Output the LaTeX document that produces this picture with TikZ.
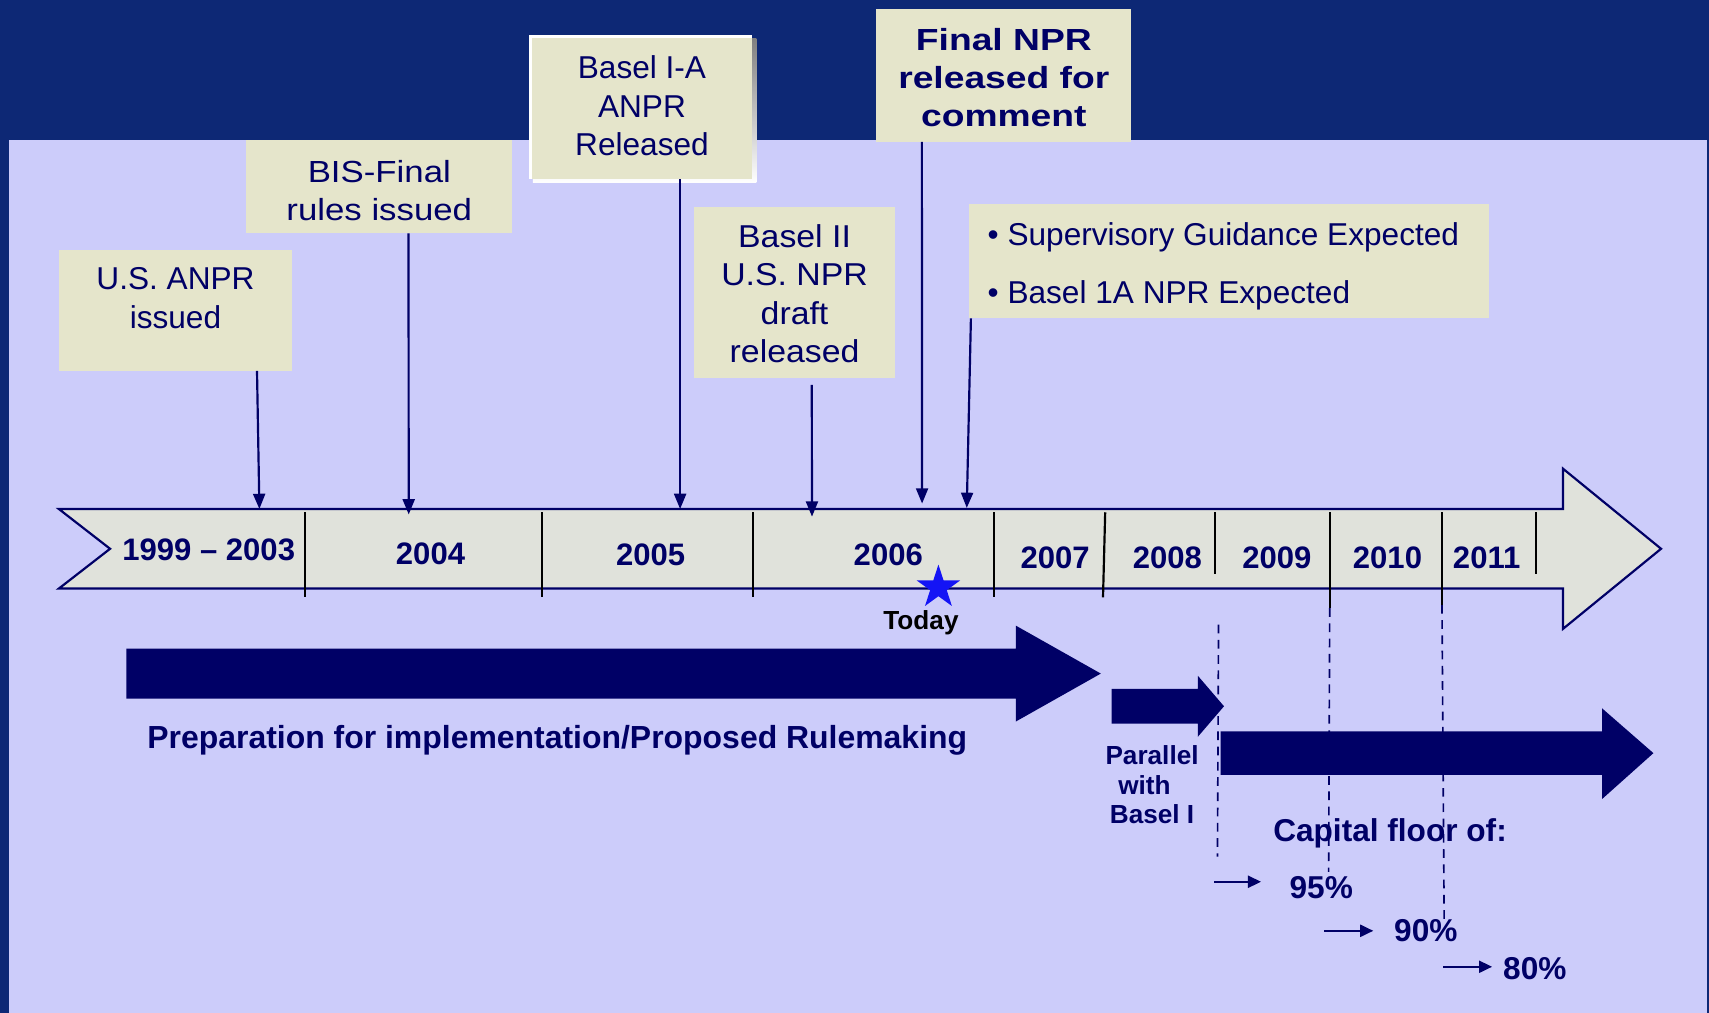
\documentclass[tikz,border=0pt]{standalone}
\usepackage{fontspec}
\setmainfont{Liberation Sans}
\newfontfamily\widesans[FakeStretch=1.14]{Liberation Sans}
\newfontfamily\widersans[FakeStretch=1.07]{Liberation Sans}
\newfontfamily\boldwide[FakeStretch=1.22]{Liberation Sans}
\usetikzlibrary{arrows.meta,shapes.geometric}

\definecolor{frame}{RGB}{13,40,117}
\definecolor{panel}{RGB}{204,204,250}
\definecolor{notefill}{RGB}{229,229,203}
\definecolor{band}{RGB}{224,226,219}
\definecolor{ink}{RGB}{0,0,102}
\definecolor{starblue}{RGB}{20,20,245}
\definecolor{shade}{RGB}{140,140,140}

\begin{document}
\begin{tikzpicture}[x=1pt,y=-1pt,
  note/.style={fill=notefill, inner sep=0pt},
  notetext/.style={text=ink, align=center, inner sep=0pt,
    font=\fontsize{29}{35}\selectfont},
  link/.style={draw=ink, line width=2pt, -{Triangle[length=14pt,width=11pt]}},
  pointer/.style={draw=ink, line width=2pt, -{Triangle[length=12pt,width=11pt]}},
  divider/.style={draw=black, line width=2pt},
  guide/.style={draw=ink, line width=1.5pt, dash pattern=on 8pt off 6pt},
  year/.style={text=ink, anchor=base, inner sep=0pt,
    font=\bfseries\fontsize{28.5}{34}\selectfont},
  label/.style={text=ink, anchor=base west, inner sep=0pt,
    font=\bfseries\fontsize{29}{34}\selectfont},
  bigarrow/.style={fill=ink}
]
\useasboundingbox (0,0) rectangle (1568,929);

% backdrop and panel
\fill[frame] (0,0) rectangle (1568,929);
\fill[panel] (8,128.5) rectangle (1566,929);

% note boxes
\node[note, minimum width=214pt, minimum height=111pt] (anpr) at (161,284.5) {};
\node[notetext] (anprtxt) at (161,273.5) {U.S. ANPR\\issued};

\node[note, minimum width=244pt, minimum height=85.5pt] (bis) at (348,171.25) {};
\node[notetext, font=\widesans\fontsize{28}{34.5}\selectfont] (bistxt) at (348,175) {BIS-Final\\rules issued};

\fill[shade] (489,35) rectangle (694,167.5);
\node[note, minimum width=205pt, minimum height=132pt, anchor=north west] (ia) at (485,32) {};
\fill[white] (485,32) rectangle (690,35);
\fill[white] (485,32) rectangle (488,164);
\node[notetext] (iatxt) at (589,97) {Basel I-A\\ANPR\\Released};

\node[note, minimum width=184pt, minimum height=157pt] (b2) at (729,268.5) {};
\node[notetext, font=\widersans\fontsize{29}{35}\selectfont] (b2txt) at (729,269.5) {Basel II\\U.S. NPR\\draft\\released};

\node[note, minimum width=234pt, minimum height=122pt] (fnpr) at (921,69) {};
\node[notetext, font=\boldwide\bfseries\fontsize{28}{35}\selectfont] (fnprtxt) at (921,71) {Final NPR\\released for\\comment};

\node[note, minimum width=477pt, minimum height=105pt] (sup) at (1127.5,239.5) {};
\node[notetext, align=left, anchor=west] (suptxt) at (906,244.5)
  {\textbullet\ Supervisory Guidance Expected\\[18pt]\textbullet\ Basel 1A NPR Expected};

% guide lines under the phase arrows
\draw[guide] (1220,558) -- (1219,800);
\draw[guide] (1323,555) -- (1325,844);
\draw[guide] (1118,573) -- (1117,786);

% timeline band
\draw[fill=band, draw=ink, line width=2pt, line join=miter]
  (54,467) -- (1434,467) -- (1434,430) -- (1524,503.5) -- (1434,577)
  -- (1434,540) -- (54,540) -- (101,503.5) -- cycle;

% year dividers
\foreach \x in {280,497,691,912} \draw[divider] (\x,470) -- (\x,548);
\draw[divider] (1014,470) -- (1012,548);
\draw[divider] (1115,470) -- (1115,527);
\draw[divider] (1220,470) -- (1220,558);
\draw[divider] (1323,470) -- (1323,555);
\draw[divider] (1409,470) -- (1409,527);

% years
\node[year] (y1) at (191.5,513.8) {1999 -- 2003};
\node[year] (y2) at (395,517.5) {2004};
\node[year] (y3) at (597,518.5) {2005};
\node[year] (y4) at (815,518.5) {2006};
\node[year] (y5) at (968,521.4) {2007};
\node[year] (y6) at (1071,521.4) {2008};
\node[year] (y7) at (1171.5,521.4) {2009};
\node[year] (y8) at (1273,521.4) {2010};
\node[year] (y9) at (1364,521.4) {2011};

% today marker
\node[star, star points=5, star point ratio=2.618, fill=starblue, draw=none,
  minimum size=42pt, inner sep=0pt] (today) at (861,539) {};
\node[anchor=base, inner sep=0pt, font=\bfseries\fontsize{24}{28}\selectfont]
  (todaytxt) at (845,578) {Today};

% connectors from notes to the timeline
\coordinate (anprend) at (238,467);
\coordinate (bisend) at (375,472);
\coordinate (iaend) at (624,467);
\coordinate (b2end) at (745,474);
\coordinate (fnprend) at (846,462);
\coordinate (supend) at (887,466);
\draw[link] ([xshift=182pt]anpr.south west) -- (anprend);
\draw[link] ([xshift=149pt]bis.south west) -- (bisend);
\draw[link] ([xshift=139pt]ia.south west) -- (iaend);
\draw[link] ([xshift=108pt,yshift=-6pt]b2.south west) -- (b2end);
\draw[link] ([xshift=42pt]fnpr.south west) -- (fnprend);
\draw[link] ([xshift=2pt]sup.south west) -- (supend);

% phase arrows
\fill[bigarrow] (116,595) -- (932,595) -- (932,574) -- (1010,618) -- (932,662)
  -- (932,641) -- (116,641) -- cycle;
\fill[bigarrow] (1020,632) -- (1099,632) -- (1099,620) -- (1123,648) -- (1099,676)
  -- (1099,664) -- (1020,664) -- cycle;
\fill[bigarrow] (1120,671) -- (1470,671) -- (1470,650) -- (1517,691) -- (1470,733)
  -- (1470,711) -- (1120,711) -- cycle;

\node[label, font=\bfseries\fontsize{29.3}{34}\selectfont] (prep) at (135,687)
  {Preparation for implementation/Proposed Rulemaking};
\node[text=ink, align=center, inner sep=0pt, font=\bfseries\fontsize{24}{27}\selectfont]
  (par) at (1057,720) {Parallel\\with\rule{14pt}{0pt}\\Basel I};

% capital floor steps
\node[label] (cap) at (1168,772) {Capital floor of:};
\node[label] (p95) at (1183,824) {95\%};
\node[label] (p90) at (1279,864) {90\%};
\node[label] (p80) at (1379,898.5) {80\%};
\coordinate (s95) at (1114,809);
\coordinate (e95) at (1157,809);
\coordinate (s90) at (1215,854);
\coordinate (e90) at (1260,854);
\coordinate (s80) at (1324,887);
\coordinate (e80) at (1369,887);
\draw[pointer] (s95) -- (e95);
\draw[pointer] (s90) -- (e90);
\draw[pointer] (s80) -- (e80);
\end{tikzpicture}
\end{document}
